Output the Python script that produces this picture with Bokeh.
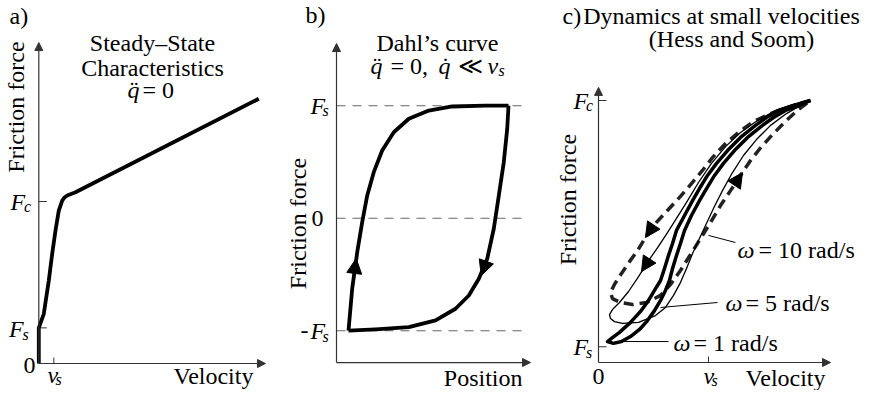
from math import pi
from bokeh.plotting import figure
from bokeh.layouts import row
from bokeh.models import Range1d, Arrow, NormalHead
from bokeh.core.properties import value
from bokeh.embed import file_html
from bokeh.resources import INLINE

FONT = "Liberation Serif"
H = 390
FS = 24   # main font size (px)
SUB = 16  # subscript font size (px)

# ---------------- data ----------------
# (a) steady-state characteristic: velocity in units of v_s, force in units of F_c
a_velocity = [0, 0, 0.333, 0.667, 0.893, 1.113, 1.333, 1.56, 1.713, 1.893, 2.447, 14.667]
a_force = [0, 0.22, 0.307, 0.512, 0.677, 0.821, 0.944, 1.006, 1.025, 1.037, 1.057, 1.634]
a_Fc, a_Fs, a_vs = 1.0, 0.22, 1.0

# (b) Dahl's curve: position (normalised), force in units of F_s
b_up_pos = [-1.0, -0.954, -0.891, -0.829, -0.766, -0.684, -0.579, -0.434, -0.246, 0.004, 0.296, 0.713, 1.0]
b_up_force = [-1.0, -0.628, -0.302, -0.036, 0.202, 0.409, 0.602, 0.764, 0.884, 0.957, 0.993, 1.0, 1.0]
b_down_pos = [1.0, 0.984, 0.941, 0.879, 0.816, 0.734, 0.629, 0.504, 0.338, 0.088, -0.246, -0.663, -1.0]
b_down_force = [1.0, 0.795, 0.498, 0.202, -0.094, -0.361, -0.539, -0.687, -0.805, -0.909, -0.969, -0.989, -1.0]
b_levels = [1.0, 0.0, -1.0]

# (c) Hess and Soom loops: velocity in units of v_s, force in units of F_c
c_w1_v = [1.927, 1.773, 1.636, 1.527, 1.427, 1.291, 1.173, 1.073, 0.991, 0.918, 0.855, 0.782, 0.709,
          0.673, 0.636, 0.600, 0.564, 0.509, 0.455, 0.382, 0.291, 0.191, 0.118, 0.082,
          0.136, 0.209, 0.291, 0.373, 0.445, 0.509, 0.564, 0.609, 0.645, 0.673, 0.709, 0.745,
          0.782, 0.845, 0.918, 0.982, 1.055, 1.136, 1.236, 1.355, 1.491, 1.591, 1.700, 1.827, 1.927]
c_w1_f = [1.000, 0.981, 0.962, 0.935, 0.905, 0.859, 0.809, 0.760, 0.714, 0.664, 0.618, 0.561, 0.504,
          0.454, 0.408, 0.359, 0.313, 0.275, 0.237, 0.195, 0.153, 0.115, 0.092, 0.080,
          0.073, 0.080, 0.099, 0.126, 0.160, 0.198, 0.237, 0.275, 0.313, 0.359, 0.408, 0.454,
          0.504, 0.561, 0.618, 0.664, 0.714, 0.760, 0.809, 0.859, 0.905, 0.935, 0.962, 0.981, 1.000]
c_w5_v = [1.927, 1.773, 1.609, 1.445, 1.291, 1.155, 1.027, 0.909, 0.800, 0.709, 0.627, 0.545, 0.455,
          0.364, 0.273, 0.191, 0.127, 0.100, 0.109, 0.145, 0.218, 0.364, 0.518, 0.609, 0.682, 0.745,
          0.800, 0.855, 0.909, 0.973, 1.045, 1.127, 1.218, 1.318, 1.436, 1.564, 1.709, 1.836, 1.927]
c_w5_f = [1.0, 0.985, 0.962, 0.924, 0.878, 0.824, 0.760, 0.687, 0.611, 0.550, 0.496, 0.443, 0.389,
          0.328, 0.271, 0.229, 0.202, 0.183, 0.168, 0.156, 0.149, 0.153, 0.179, 0.210, 0.256, 0.305,
          0.359, 0.416, 0.466, 0.523, 0.588, 0.656, 0.725, 0.790, 0.851, 0.905, 0.950, 0.981, 1.0]
c_w10_v = [1.927, 1.836, 1.718, 1.564, 1.409, 1.273, 1.155, 1.036, 0.945, 0.845, 0.745, 0.627, 0.500,
           0.427, 0.355, 0.282, 0.209, 0.145, 0.109, 0.127, 0.200, 0.309, 0.436, 0.564, 0.655, 0.745,
           0.836, 0.927, 1.018, 1.109, 1.200, 1.291, 1.382, 1.482, 1.591, 1.709, 1.818, 1.927]
c_w10_f = [1.0, 0.989, 0.973, 0.950, 0.920, 0.878, 0.836, 0.782, 0.733, 0.683, 0.634, 0.580, 0.523,
           0.477, 0.427, 0.385, 0.340, 0.298, 0.267, 0.244, 0.229, 0.221, 0.229, 0.256, 0.298, 0.351,
           0.412, 0.473, 0.534, 0.599, 0.656, 0.714, 0.771, 0.824, 0.874, 0.924, 0.966, 1.0]
c_Fc, c_Fs, c_vs = 1.0, 0.06, 1.0
c_labels = ["10", "5", "1"]


# ---------------- helpers ----------------
def panel(left, width, ox, oy, sx, sy):
    """left/width: page pixels; (ox, oy): page pixel of the data origin; sx, sy: px per unit"""
    top, bottom = 0, H
    p = figure(width=width, height=H,
               x_range=Range1d((left - ox) / sx, (left + width - ox) / sx),
               y_range=Range1d((oy - bottom) / sy, (oy - top) / sy),
               output_backend="svg", toolbar_location=None, title=None,
               x_axis_type=None, y_axis_type=None, min_border=0,
               outline_line_color=None, background_fill_color="white",
               border_fill_color="white")
    return p


def txt(p, x, y, s, size=FS, style="normal", align="left", angle=0.0):
    p.text(x=[x], y=[y], text=[s], text_font=value(FONT), text_font_size=f"{size}px",
           text_font_style=style, text_align=align, text_baseline="middle",
           angle=angle, text_color="black")


def arrow(p, xs, ys, xe, ye, size, lw=0.0, color="black"):
    p.add_layout(Arrow(end=NormalHead(size=size, fill_color=color, line_color=color, line_width=1),
                       x_start=xs, y_start=ys, x_end=xe, y_end=ye,
                       line_width=lw if lw else 1, line_color=color,
                       line_alpha=1 if lw else 0))


AX = "#333333"

# ---------------- panel a ----------------
pa = panel(0, 280, 38.3, 363, 15, 162)
arrow(pa, 0, 0, 0, 1.981, 8, lw=1.2, color=AX)
arrow(pa, 0, 0, 15.11, 0, 8, lw=1.2, color=AX)
pa.ray(x=[0, 0], y=[a_Fc, a_Fs], length=8, angle=0, length_units="screen", line_color=AX, line_width=1)
pa.ray(x=[a_vs], y=[0], length=6, angle=pi / 2, length_units="screen", line_color=AX, line_width=1)
pa.line(a_velocity, a_force, line_width=3.8, line_color="black", line_join="round")
txt(pa, -1.953, 2.148, "a)")
txt(pa, 7.58, 1.981, "Steady\u2013State", align="center")
txt(pa, 7.58, 1.827, "Characteristics", align="center")
txt(pa, 5.91, 1.691, "q\u0308", style="italic")
txt(pa, 6.913, 1.691, "= 0")
txt(pa, -1.52, 1.583, "Friction force", align="center", angle=pi / 2)
txt(pa, -1.887, a_Fc, "F", style="italic")
txt(pa, -0.987, a_Fc - 0.03, "c", size=SUB, style="italic")
txt(pa, -1.987, a_Fs - 0.004, "F", style="italic")
txt(pa, -1.087, a_Fs - 0.04, "s", size=SUB, style="italic")
txt(pa, -0.62, -0.012, "0", align="center")
txt(pa, 0.58, -0.074, "v", style="italic")
txt(pa, 1.113, -0.099, "s", size=SUB, style="italic")
txt(pa, 14.31, -0.08, "Velocity", align="right")

# ---------------- panel b ----------------
pb = panel(280, 275, 428, 217.7, 80, 112.5)
bx0, by0 = -1.15, -1.283
pb.segment(x0=[bx0] * 3, y0=b_levels, x1=[1.2125] * 3, y1=b_levels,
           line_color="#666666", line_width=1.1, line_dash="9 7")
arrow(pb, bx0, by0, bx0, 1.553, 8, lw=1.2, color=AX)
arrow(pb, bx0, by0, 1.275, by0, 8, lw=1.2, color=AX)
pb.line(b_up_pos, b_up_force, line_width=3.8, line_color="black", line_join="round")
pb.line(b_down_pos, b_down_force, line_width=3.8, line_color="black", line_join="round")
arrow(pb, -0.93, -0.5, -0.904, -0.358, 15)
arrow(pb, 0.72, -0.39, 0.659, -0.509, 15)
txt(pb, -1.5375, 1.802, "b)")
txt(pb, 0.1125, 1.553, "Dahl\u2019s curve", align="center")
txt(pb, -0.725, 1.357, "q\u0308", style="italic")
txt(pb, -0.475, 1.357, "= 0,")
txt(pb, 0.125, 1.357, "q\u0307", style="italic")
txt(pb, 0.3625, 1.357, "\u226a")
txt(pb, 0.7375, 1.357, "v", style="italic")
txt(pb, 0.875, 1.313, "s", size=SUB, style="italic")
txt(pb, -1.6375, -0.047, "Friction force", align="center", angle=pi / 2)
txt(pb, -1.475, b_levels[0], "F", style="italic")
txt(pb, -1.325, b_levels[0] - 0.045, "s", size=SUB, style="italic")
txt(pb, -1.3875, b_levels[1], "0", align="center")
txt(pb, -1.6, b_levels[2], "-")
txt(pb, -1.475, b_levels[2], "F", style="italic")
txt(pb, -1.325, b_levels[2] - 0.052, "s", size=SUB, style="italic")
txt(pb, 1.175, -1.424, "Position", align="right")

# ---------------- panel c ----------------
pc = panel(555, 311, 598, 362, 110, 262)
arrow(pc, 0, 0, 0, 1.05, 8, lw=1.2, color=AX)
arrow(pc, 0, 0, 2.109, 0, 8, lw=1.2, color=AX)
pc.ray(x=[0, 0], y=[c_Fc, c_Fs], length=8, angle=0, length_units="screen", line_color=AX, line_width=1)
pc.ray(x=[c_vs], y=[0], length=6, angle=pi / 2, length_units="screen", line_color=AX, line_width=1)
pc.line(c_w10_v, c_w10_f, line_width=3.5, line_color="#222222", line_dash="10 6", line_join="round")
pc.line(c_w5_v, c_w5_f, line_width=1.3, line_color="black", line_join="round")
pc.line(c_w1_v, c_w1_f, line_width=3.5, line_color="black", line_join="round")
arrow(pc, 0.5, 0.523, 0.427, 0.477, 15)
arrow(pc, 0.491, 0.412, 0.391, 0.347, 15)
arrow(pc, 1.236, 0.679, 1.309, 0.725, 15)
# leader lines
pc.segment(x0=[1.0, 0.564, 0.155], y0=[0.485, 0.210, 0.080],
           x1=[1.245, 1.082, 0.636], y1=[0.458, 0.229, 0.080], line_color="black", line_width=1)
txt(pc, 1.264, 0.431, "\u03c9", style="italic")
txt(pc, 1.455, 0.431, f"= {c_labels[0]} rad/s")
txt(pc, 1.155, 0.229, "\u03c9", style="italic")
txt(pc, 1.336, 0.229, f"= {c_labels[1]} rad/s")
txt(pc, 0.682, 0.076, "\u03c9", style="italic")
txt(pc, 0.864, 0.076, f"= {c_labels[2]} rad/s")
txt(pc, -0.327, 1.324, "c)")
txt(pc, 1.118, 1.324, "Dynamics at small velocities", align="center")
txt(pc, 1.209, 1.233, "(Hess and Soom)", align="center")
txt(pc, -0.273, 0.622, "Friction force", align="center", angle=pi / 2)
txt(pc, -0.227, c_Fc, "F", style="italic")
txt(pc, -0.114, c_Fc - 0.02, "c", size=SUB, style="italic")
txt(pc, -0.227, c_Fs, "F", style="italic")
txt(pc, -0.114, c_Fs - 0.02, "s", size=SUB, style="italic")
txt(pc, 0.0, -0.053, "0", align="center")
txt(pc, 0.955, -0.053, "v", style="italic")
txt(pc, 1.027, -0.069, "s", size=SUB, style="italic")
txt(pc, 2.064, -0.061, "Velocity", align="right")

layout = row(pa, pb, pc)
open("out.html", "w").write(file_html(layout, INLINE))
